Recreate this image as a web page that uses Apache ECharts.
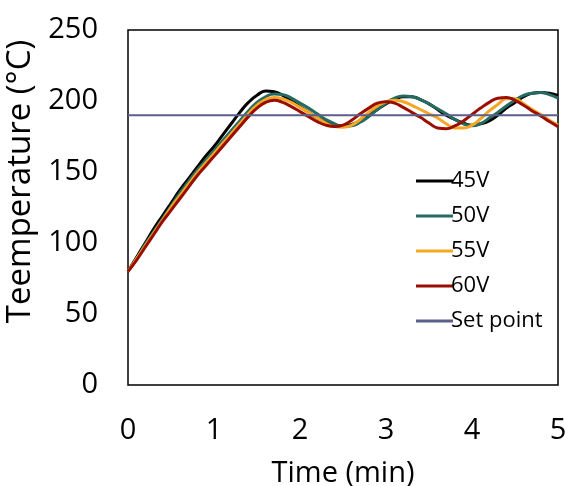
<!DOCTYPE html>
<html>
<head>
<meta charset="utf-8">
<script src="https://cdn.jsdelivr.net/npm/echarts@6/dist/echarts.min.js"></script>
<style>
html,body{margin:0;padding:0;background:#fff;}
#chart{width:565px;height:486px;}
</style>
</head>
<body>
<div id="chart"></div>
<script>
var time = [0,0.1,0.2,0.3,0.4,0.5,0.6,0.7,0.8,0.9,1.0,1.1,1.2,1.3,1.4,1.5,1.6,1.7,1.8,1.9,2.0,2.1,2.2,2.3,2.4,2.5,2.6,2.7,2.8,2.9,3.0,3.1,3.2,3.3,3.4,3.5,3.6,3.7,3.8,3.9,4.0,4.1,4.2,4.3,4.4,4.5,4.6,4.7,4.8,4.9,5.0];
var v45 = [80,90,100,110,119,128,137,145,153,161,168,176,184,192,199,204,207,206.5,204,200,196,192,188,185,183,182.5,183.5,186,190,194,198,201,203,203,201,198,194,190,187,184.5,183,184,186,190,195,199,203,205.5,206,205.5,204];
var v50 = [80,89,99,108,117,126,135,143,151,158,165,172,179,186,193,199,203,205,204.5,202,198.5,195,191,187,184,182,182.5,185,189,194,198.5,202,203.5,203,201,198,194.5,191,187,184,182.5,184,188,192,196.5,200.5,204,205.5,206,204.5,202];
var v55 = [80,89,98,107,116,125,133,141,149,156,163,170,177,184,191,197,201,202.5,201.5,199,195.5,192,188,184.5,182,181.5,183,187,192,196.5,199.5,200.5,199.5,197,194,191,188,184,181,181,183,187.5,193,197.5,201.5,201.5,198,194,190.5,186.5,183];
var v60 = [80,88,97,106,115,123,131,139,147,154,161,168,175,182,189,195,199,200.5,199,196,192.5,189,185.5,183,182,183,186.5,191,195,198.5,199.5,198.5,195.5,192,188.5,184.5,181,180.5,182.5,186,190.5,195,199,202,202.5,200.5,197,193,189.5,185.5,182];
var setPoint = 190;
var seriesNames = ['45V','50V','55V','60V','Set point'];
var xTicks = [0,1,2,3,4,5];
var yTicks = [0,50,100,150,200,250];

function pairs(vals){ return time.map(function(t,i){ return [t, vals[i]]; }); }
var spData = time.map(function(t){ return [t, setPoint]; });

var colors = ['#000000','#256b62','#f5a623','#9a0d00','#5b5f8c'];
var datasets = [v45, v50, v55, v60];
var series = datasets.map(function(d,i){
  return {name: seriesNames[i], type:'line', data: pairs(d), smooth:true, symbol:'none',
    lineStyle:{color:colors[i], width:3}, itemStyle:{color:colors[i]}};
});
series.push({name: seriesNames[4], type:'line', data: spData, symbol:'none',
  lineStyle:{color:colors[4], width:2}, itemStyle:{color:colors[4]}});

var chart = echarts.init(document.getElementById('chart'));
chart.setOption({
  animation:false,
  textStyle:{fontFamily:'Open Sans'},
  grid:{left:128, right:7, top:30, bottom:101, outerBoundsMode:'none', containLabel:false, show:true, borderColor:'#000', borderWidth:1.5, backgroundColor:'transparent'},
  legend:{orient:'vertical', left:411, top:165, icon:'rect', itemWidth:37, itemHeight:3, itemGap:13,
    textStyle:{fontSize:22, color:'#000', fontFamily:'Open Sans', padding:[0,0,0,-7]},
    data: seriesNames.map(function(n,i){ return {name:n, itemStyle:{color:colors[i]}}; })},
  xAxis:{type:'value', min:xTicks[0], max:xTicks[xTicks.length-1], interval:1,
    name:'Time (min)', nameLocation:'middle', nameGap:74,
    nameTextStyle:{fontSize:29, color:'#000', fontFamily:'Open Sans'},
    axisLine:{show:false}, axisTick:{show:false}, splitLine:{show:false},
    axisLabel:{fontSize:29, color:'#000', margin:31, fontFamily:'Open Sans'}},
  yAxis:{type:'value', min:yTicks[0], max:yTicks[yTicks.length-1], interval:50,
    name:'Teemperature (°C)', nameLocation:'middle', nameGap:87,
    nameTextStyle:{fontSize:33, color:'#000', fontFamily:'Open Sans', padding:[0,0,0,52]},
    axisLine:{show:false}, axisTick:{show:false}, splitLine:{show:false},
    axisLabel:{fontSize:29, color:'#000', margin:30, fontFamily:'Open Sans'}},
  series: series
});
</script>
</body>
</html>
